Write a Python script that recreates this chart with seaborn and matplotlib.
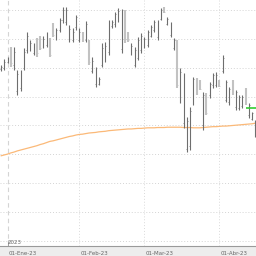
import numpy as np
import pandas as pd
import matplotlib
matplotlib.use("Agg")
import matplotlib.pyplot as plt
import matplotlib.transforms as mtrans
import seaborn as sns

# ---- data ----
dates = pd.bdate_range("2022-12-29", periods=79)
high = [160.9, 163.0, 163.7, 167.2, 167.2, 159.2, 159.2, 166.8, 172.4, 169.6,
        168.6, 170.3, 171.0, 171.0, 172.4, 170.3, 175.5, 173.8, 177.2, 181.0,
        181.0, 174.8, 173.8, 178.3, 173.8, 172.4, 176.2, 169.6, 163.7, 160.3,
        156.8, 168.6, 168.9, 176.5, 176.5, 179.3, 180.7, 180.3, 180.0, 172.4,
        168.6, 167.2, 170.6, 172.0, 170.6, 173.1, 174.8, 176.5, 176.5, 180.7,
        181.0, 177.6, 175.8, 170.3, 169.6, 159.9, 158.2, 142.9, 146.4, 156.8,
        156.5, 155.8, 151.6, 151.3, 155.1, 158.2, 158.5, 155.8, 164.4, 155.8,
        153.3, 155.8, 152.3, 150.6, 150.6, 153.0, 147.8, 144.7, 141.9]
low = [158.9, 159.2, 161.6, 160.3, 159.2, 150.6, 151.9, 159.2, 165.1, 165.8,
       164.4, 163.7, 166.1, 166.8, 167.2, 163.7, 170.6, 169.6, 172.4, 175.5,
       174.8, 168.9, 168.9, 173.1, 168.9, 168.9, 168.9, 160.9, 158.2, 153.3,
       154.0, 160.3, 162.0, 164.4, 173.8, 174.1, 175.8, 165.1, 168.6, 168.9,
       164.4, 160.3, 162.7, 165.1, 166.8, 167.2, 170.6, 172.4, 169.6, 176.5,
       179.0, 174.8, 170.6, 166.1, 153.0, 147.8, 139.1, 130.8, 131.5, 147.1,
       150.6, 152.3, 138.4, 143.6, 149.6, 153.0, 153.3, 153.3, 158.2, 148.1,
       147.1, 150.6, 145.4, 145.4, 146.1, 147.1, 142.6, 141.9, 136.0]
open_ = [159.5, 160.0, 162.0, 166.0, 161.0, 152.0, 153.0, 160.0, 166.0, 166.5,
         165.0, 169.0, 170.0, 167.5, 168.0, 169.5, 175.0, 170.5, 173.0, 176.5,
         176.0, 170.0, 169.5, 174.0, 169.5, 172.0, 169.5, 169.0, 159.0, 154.5,
         154.5, 161.0, 163.0, 165.5, 174.5, 175.0, 176.5, 166.5, 179.5, 172.0,
         165.0, 161.0, 163.5, 166.0, 167.5, 168.0, 171.0, 173.0, 170.5, 177.0,
         180.8, 175.2, 171.5, 167.0, 169.0, 149.0, 141.0, 132.0, 133.0, 148.0,
         156.0, 155.5, 140.0, 150.8, 150.5, 154.0, 154.0, 155.5, 159.0, 149.0,
         148.0, 155.3, 146.5, 146.0, 146.8, 152.5, 143.5, 142.3, 137.0]
close = [160.3, 162.0, 163.0, 161.5, 165.5, 158.0, 158.5, 165.5, 171.0, 168.5,
         167.5, 165.0, 167.0, 170.0, 171.5, 164.5, 171.5, 173.0, 176.5, 180.0,
         180.0, 173.5, 172.5, 177.5, 172.5, 169.5, 175.0, 162.0, 162.5, 159.0,
         156.0, 167.0, 167.5, 175.0, 176.0, 178.5, 179.5, 179.0, 170.0, 169.5,
         167.5, 166.0, 169.5, 171.0, 170.0, 172.5, 174.0, 176.0, 175.5, 180.0,
         179.3, 177.0, 175.0, 169.5, 154.0, 158.5, 157.0, 141.5, 145.0, 156.0,
         151.5, 152.8, 150.5, 144.5, 154.5, 157.5, 157.5, 153.8, 163.5, 155.0,
         152.5, 151.2, 151.5, 150.0, 150.0, 148.0, 147.0, 144.2, 141.0]
ma = [129.5, 129.8, 130.1, 130.5, 130.8, 131.2, 131.5, 131.8, 132.1, 132.4,
      132.7, 133.0, 133.4, 133.7, 134.1, 134.5, 134.7, 135.0, 135.3, 135.6,
      135.9, 136.2, 136.4, 136.7, 136.9, 137.0, 137.2, 137.4, 137.5, 137.6,
      137.8, 137.9, 138.0, 138.2, 138.3, 138.4, 138.5, 138.6, 138.7, 138.8,
      138.8, 138.9, 139.0, 139.0, 139.1, 139.2, 139.2, 139.2, 139.3, 139.3,
      139.3, 139.4, 139.4, 139.4, 139.4, 139.4, 139.3, 139.3, 139.3, 139.2,
      139.2, 139.2, 139.3, 139.4, 139.5, 139.6, 139.6, 139.7, 139.8, 139.8,
      139.9, 140.0, 140.1, 140.2, 140.3, 140.4, 140.5, 140.6, 140.8]
last_price = 146.2
meses = ["Ene", "Feb", "Mar", "Abr", "May", "Jun", "Jul", "Ago", "Sep", "Oct", "Nov", "Dic"]
year_label = "2023"

# ---- figure ----
sns.set_style("white")
fig = plt.figure(figsize=(2.56, 2.56), dpi=100, facecolor="#ededed")
ax = fig.add_axes([0, 10 / 256, 1, 246 / 256])
ax.set_facecolor("white")

idx = np.arange(len(dates))
df = pd.DataFrame({"i": idx, "ma": ma})

# horizontal grid
ax.set_yticks(np.arange(100, 190, 10))
ax.yaxis.grid(True, linestyle=(0, (1, 2)), color="#d4d4d4", linewidth=0.7)
ax.tick_params(axis="y", length=0, labelleft=False)

# month ticks
month_pos = []
month_lab = []
prev = None
for i, d in enumerate(dates):
    if d.year == 2023 and d.month != prev:
        month_pos.append(i)
        month_lab.append(f"01-{meses[d.month - 1]}-{d.strftime('%y')}")
    prev = d.month
for k, p in enumerate(month_pos):
    if k == 0:
        ax.axvline(p, color="#d4d4d4", linestyle=(0, (4, 3)), linewidth=0.8, zorder=0)
    else:
        ax.axvline(p, color="#dadada", linestyle=(0, (1, 2)), linewidth=0.7, zorder=0)

ax.set_xticks(month_pos)
ax.set_xticklabels(month_lab, fontsize=4, color="#666666", ha="left")
ax.tick_params(axis="x", direction="inout", length=5, width=0.6, color="#999999", pad=1)
offset = mtrans.ScaledTranslation(1 / 100, 0, fig.dpi_scale_trans)
for lab in ax.get_xticklabels():
    lab.set_transform(lab.get_transform() + offset)

ax.text(month_pos[0], 0.003, year_label, transform=ax.get_xaxis_transform(),
        fontsize=4, color="#666666", ha="left", va="bottom")
ax.axvline(month_pos[0], ymin=0, ymax=0.02, color="#999999", linewidth=0.6)

# MA line
sns.lineplot(data=df, x="i", y="ma", ax=ax, color="#fbb978", linewidth=0.9, zorder=2)

# OHLC bars
for i in idx:
    up = close[i] >= open_[i]
    col = "#6e6e6e" if up else "#c2c2c2"
    lw = 0.8 if up else 1.5
    ax.vlines(i, low[i], high[i], color=col, linewidth=lw, zorder=3)
    ax.hlines(open_[i], i - 0.25, i, color=col, linewidth=0.5, zorder=3)
    ax.hlines(close[i], i, i + 0.25, color=col, linewidth=0.5, zorder=3)

# last price marker
ax.hlines(last_price, idx[-4] + 0.2, idx[-1] + 0.2, color="#33cc33", linewidth=1.2, zorder=4)

ax.set_xlim(-0.31, 78.2)
ax.set_ylim(98.27, 183.46)
ax.set_xlabel("")
ax.set_ylabel("")
for s in ["top", "left", "right"]:
    ax.spines[s].set_visible(False)
ax.spines["bottom"].set_color("#9a9a9a")
ax.spines["bottom"].set_linewidth(0.8)

fig.savefig("out.png", dpi=100, facecolor=fig.get_facecolor())
